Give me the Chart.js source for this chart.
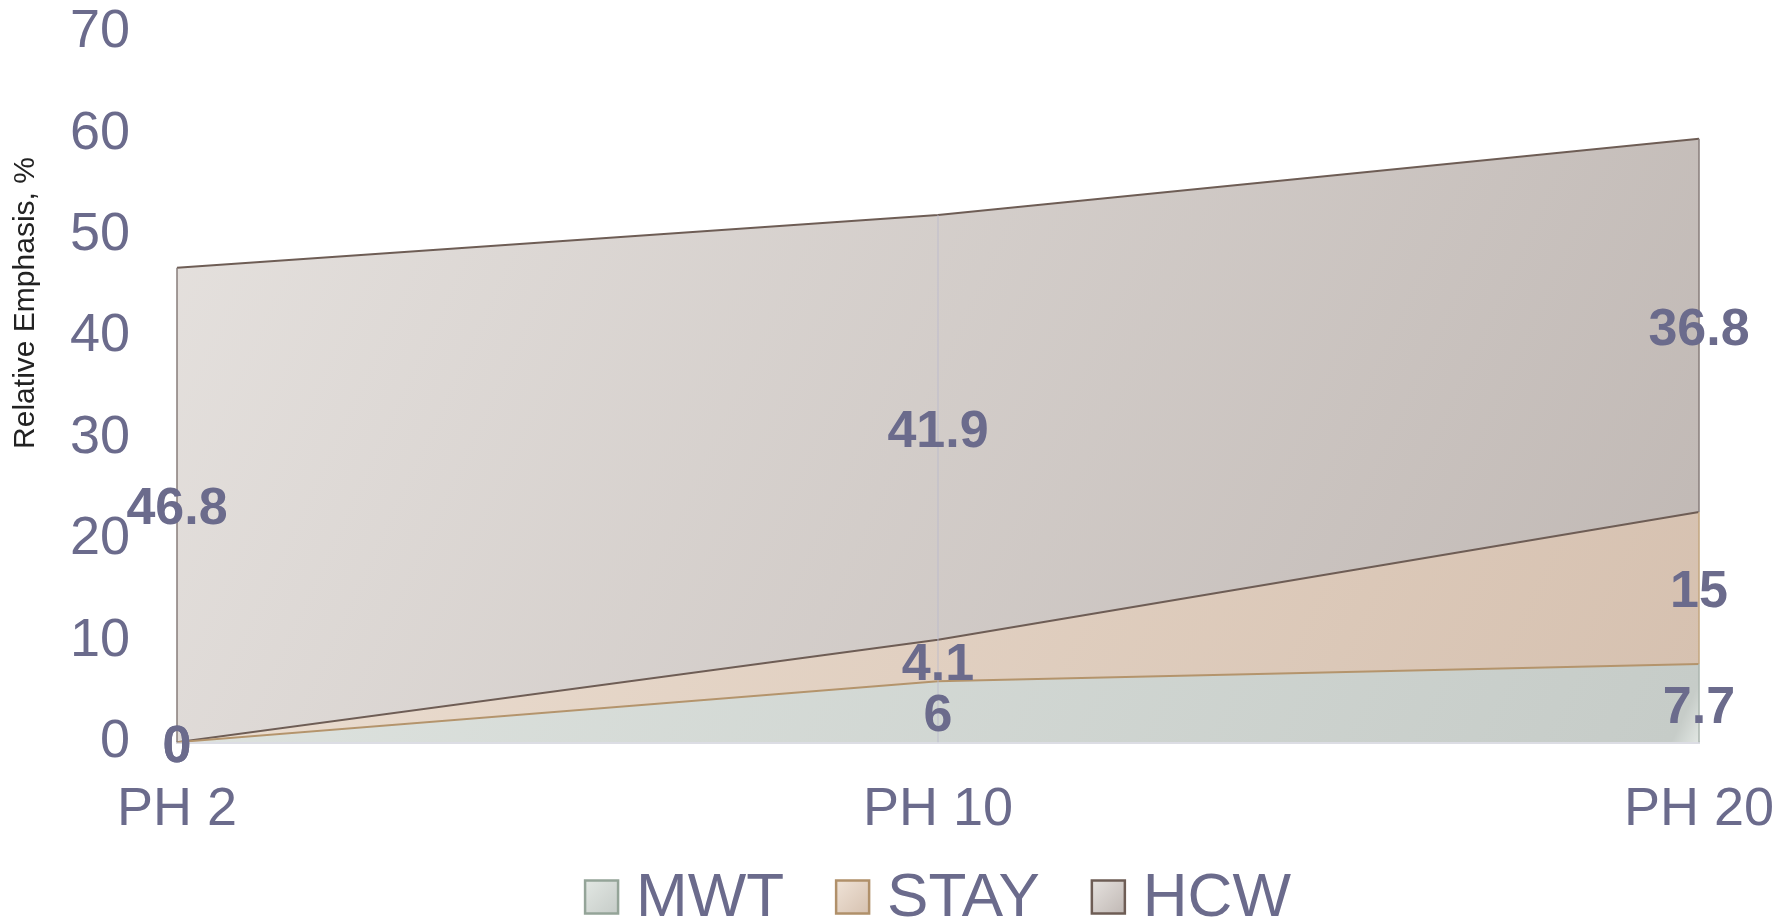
<!DOCTYPE html>
<html>
<head>
<meta charset="utf-8">
<script src="https://cdn.jsdelivr.net/npm/chart.js@4.4.1/dist/chart.umd.min.js"></script>
<style>
  html, body { margin: 0; padding: 0; background: #fff; }
  #wrap { width: 1790px; height: 920px; }
</style>
</head>
<body>
<div id="wrap"><canvas id="chart"></canvas></div>
<script>
// data
var categories = ['PH 2', 'PH 10', 'PH 20'];
var seriesNames = ['MWT', 'STAY', 'HCW'];
var mwtValues = [0, 6, 7.7];
var stayValues = [0, 4.1, 15];
var hcwValues = [46.8, 41.9, 36.8];
var yTicks = [0, 10, 20, 30, 40, 50, 60, 70];
var yTitle = 'Relative Emphasis, %';

var textColor = '#6b6b8c';

// gradient stops [light, dark] and edge colours per series
var fillStops = [
    ['#e2e7e3', '#c6ccc8'],
    ['#efe3d7', '#d6c1b0'],
    ['#e6e2df', '#c0b8b4']
];
var lineColors = ['#b4946c', '#6e5d55', '#6e5d55'];
var legendBorders = ['#94a498', '#b0906a', '#6e5d55'];
var edgeColors = ['#aab4ae', '#c2a47e', '#877c7a'];

function makeFill(i) {
    return function(ctx) {
        var chart = ctx.chart;
        var a = chart.chartArea;
        if (!a) return fillStops[i][0];
        var g = chart.ctx.createLinearGradient(a.left, a.top, a.right, a.bottom);
        g.addColorStop(0, fillStops[i][0]);
        g.addColorStop(0.985, fillStops[i][1]);
        g.addColorStop(1, fillStops[i][0]);
        return g;
    };
}

// 垂直边线 + 数据标签
var areaExtras = {
    id: 'areaExtras',
    afterDatasetsDraw: function(chart) {
        var ctx = chart.ctx;
        var x = chart.scales.x, y = chart.scales.y;
        var sets = chart.data.datasets;
        var last = categories.length - 1;
        ctx.save();
        var idxs = [0, last];
        sets.forEach(function(ds, d) {
            idxs.forEach(function(i) {
                var below = 0;
                for (var k = 0; k < d; k++) below += sets[k].data[i];
                var top = below + ds.data[i];
                if (top === below) return;
                ctx.strokeStyle = edgeColors[d];
                ctx.lineWidth = 1.5;
                ctx.beginPath();
                ctx.moveTo(x.getPixelForValue(i), y.getPixelForValue(top));
                ctx.lineTo(x.getPixelForValue(i), y.getPixelForValue(below));
                ctx.stroke();
            });
        });
        for (var i = 1; i < last; i++) {
            var tot = 0;
            sets.forEach(function(ds) { tot += ds.data[i]; });
            ctx.strokeStyle = 'rgba(185,185,205,0.55)';
            ctx.lineWidth = 1.5;
            ctx.beginPath();
            ctx.moveTo(x.getPixelForValue(i), y.getPixelForValue(tot));
            ctx.lineTo(x.getPixelForValue(i), y.getPixelForValue(0));
            ctx.stroke();
        }
        // labels
        ctx.fillStyle = textColor;
        ctx.font = 'bold 52px "Liberation Sans", Arial, sans-serif';
        ctx.textAlign = 'center';
        ctx.textBaseline = 'middle';
        sets.forEach(function(ds, d) {
            ds.data.forEach(function(v, i) {
                var below = 0;
                for (var k = 0; k < d; k++) below += sets[k].data[i];
                ctx.fillText(String(v), x.getPixelForValue(i), y.getPixelForValue(below + v / 2) + 5);
            });
        });
        ctx.restore();
    },
    // legend and axis title
    afterDraw: function(chart) {
        var ctx = chart.ctx;
        var area = chart.chartArea;
        ctx.save();
        ctx.translate(26, 303);
        ctx.rotate(-Math.PI / 2);
        ctx.fillStyle = '#222';
        ctx.font = '30px "Liberation Sans", Arial, sans-serif';
        ctx.textAlign = 'center';
        ctx.textBaseline = 'middle';
        ctx.fillText(yTitle, 0, 0);
        ctx.restore();

        var box = 33, gap = 18, itemGap = 52;
        ctx.save();
        ctx.font = '62px "Liberation Sans", Arial, sans-serif';
        var widths = seriesNames.map(function(n) { return ctx.measureText(n).width; });
        var total = 0;
        widths.forEach(function(w, i) { total += box + gap + w + (i ? itemGap : 0); });
        var cx = (area.left + area.right) / 2, cy = 897;
        var px = cx - total / 2;
        seriesNames.forEach(function(name, i) {
            var g = ctx.createLinearGradient(px, cy - box / 2, px + box, cy + box / 2);
            g.addColorStop(0, fillStops[i][0]);
            g.addColorStop(1, fillStops[i][1]);
            ctx.fillStyle = g;
            ctx.fillRect(px, cy - box / 2, box, box);
            ctx.strokeStyle = legendBorders[i];
            ctx.lineWidth = 2.5;
            ctx.strokeRect(px, cy - box / 2, box, box);
            px += box + gap;
            ctx.fillStyle = textColor;
            ctx.textAlign = 'left';
            ctx.textBaseline = 'middle';
            ctx.fillText(name, px, cy + 2);
            px += widths[i] + itemGap;
        });
        ctx.restore();
    }
};

var allValues = [mwtValues, stayValues, hcwValues];

var chart = new Chart(document.getElementById('chart'), {
    type: 'line',
    data: {
        labels: categories,
        datasets: seriesNames.map(function(name, i) {
            return {
                label: name,
                data: allValues[i],
                fill: i === 0 ? 'origin' : '-1',
                backgroundColor: makeFill(i),
                borderColor: lineColors[i],
                borderWidth: 2,
                pointRadius: 0,
                tension: 0
            };
        })
    },
    options: {
        responsive: true,
        maintainAspectRatio: false,
        animation: false,
        layout: { padding: { left: 0, right: 91, top: 0, bottom: 77 } },
        plugins: {
            tooltip: { enabled: false },
            legend: { display: false }
        },
        scales: {
            x: {
                offset: false,
                grid: { display: true, drawOnChartArea: false, drawTicks: true, tickLength: 36, tickColor: 'transparent' },
                border: { display: true, color: '#dcdde4', width: 3 },
                ticks: {
                    color: textColor,
                    padding: 0,
                    font: { family: '"Liberation Sans", Arial', size: 54 }
                }
            },
            y: {
                stacked: true,
                min: 0,
                max: 70,
                afterFit: function(axis) { axis.width = 177; },
                afterBuildTicks: function(axis) {
                    axis.ticks = yTicks.map(function(v) { return { value: v }; });
                },
                grid: { display: true, drawOnChartArea: false, drawTicks: true, tickLength: 47, tickColor: 'transparent' },
                border: { display: false },
                ticks: {
                    color: textColor,
                    padding: 0,
                    font: { family: '"Liberation Sans", Arial', size: 54 }
                }
            }
        }
    },
    plugins: [areaExtras]
});
</script>
</body>
</html>
